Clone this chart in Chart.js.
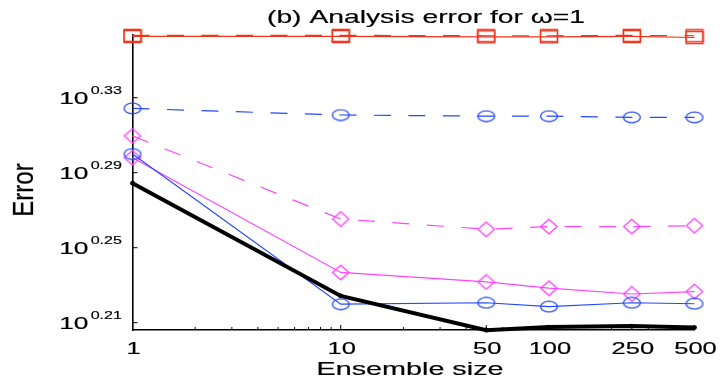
<!DOCTYPE html>
<html>
<head>
<meta charset="utf-8">
<script src="https://cdn.jsdelivr.net/npm/chart.js@4/dist/chart.umd.min.js"></script>
<style>
  html, body { margin: 0; padding: 0; background: #fff; }
  #wrap { width: 723px; height: 382px; }
</style>
</head>
<body>
<div id="wrap"><canvas id="c" width="723" height="382"></canvas></div>
<script>
// Ensemble sizes and the analysis error of each scheme
const ensembleSizes = [1, 10, 50, 100, 250, 500];
const xTickLabels = ['1', '10', '50', '100', '250', '500'];
const yTickExponents = ['0.21', '0.25', '0.29', '0.33'];

const redSolid      = [2.305, 2.305, 2.304, 2.304, 2.305, 2.302];
const redDashed     = [2.308, 2.308, 2.307, 2.307, 2.308, 2.307];
const blueDashed    = [2.110, 2.093, 2.090, 2.090, 2.087, 2.087];
const magentaDashed = [2.040, 1.842, 1.819, 1.825, 1.825, 1.827];
const blueSolid     = [1.995, 1.659, 1.662, 1.654, 1.662, 1.660];
const magentaSolid  = [1.986, 1.725, 1.705, 1.692, 1.680, 1.685];
const blackThick    = [1.925, 1.676, 1.607, 1.613, 1.615, 1.612];

const RED = '#f0341c', BLUE = '#2348ff', MAGENTA = '#ff44fa';
const FONT = '"Liberation Sans", Arial, Helvetica, sans-serif';
const TEXT_WEIGHT = 0.18;

// Wide, open marker glyphs
function marker(kind, color) {
  const c = document.createElement('canvas');
  const w = 20, h = kind === 'diamond' ? 17 : (kind === 'square' ? 15 : 13);
  c.width = w; c.height = h;
  const g = c.getContext('2d');
  g.strokeStyle = color; g.lineWidth = 1.3;
  g.beginPath();
  if (kind === 'circle') {
    g.ellipse(w / 2, h / 2, 8.4, 5.3, 0, 0, Math.PI * 2);
  } else if (kind === 'diamond') {
    g.moveTo(w / 2, 1.2); g.lineTo(w - 1.8, h / 2);
    g.lineTo(w / 2, h - 1.2); g.lineTo(1.8, h / 2); g.closePath();
  } else {
    g.rect(1.5, 1.5, w - 3, h - 3);
  }
  g.stroke();
  return c;
}

const pts = vals => vals.map((v, i) => ({ x: ensembleSizes[i], y: v }));

function series(vals, color, style, dashed) {
  return {
    data: pts(vals),
    borderColor: color,
    backgroundColor: color,
    borderWidth: 1.2,
    borderDash: dashed ? [17, 17.5] : [],
    pointStyle: style,
    pointRadius: 9,
    clip: false,
    tension: 0
  };
}

const datasets = [
  {
    data: pts(blackThick), borderColor: '#000', backgroundColor: '#000',
    borderWidth: 4, pointStyle: 'circle', pointRadius: 2.4, pointBorderWidth: 0,
    clip: false, tension: 0
  },
  series(blueSolid, BLUE, marker('circle', BLUE), false),
  series(magentaSolid, MAGENTA, marker('diamond', MAGENTA), false),
  series(magentaDashed, MAGENTA, marker('diamond', MAGENTA), true),
  series(blueDashed, BLUE, marker('circle', BLUE), true),
  series(redSolid, RED, marker('square', RED), false),
  series(redDashed, RED, marker('square', RED), true)
];

function stretchedText(ctx, str, x, y, size, sx, align) {
  ctx.save();
  ctx.font = size + 'px ' + FONT;
  ctx.textBaseline = 'alphabetic';
  ctx.textAlign = align || 'left';
  ctx.translate(x, y);
  ctx.scale(sx, 1);
  ctx.fillText(str, 0, 0);
  ctx.strokeStyle = ctx.fillStyle;
  ctx.lineWidth = TEXT_WEIGHT;
  ctx.strokeText(str, 0, 0);
  ctx.restore();
}

function fitText(ctx, str, cx, y, size, targetW) {
  ctx.save();
  ctx.font = size + 'px ' + FONT;
  const w = ctx.measureText(str).width;
  ctx.restore();
  stretchedText(ctx, str, cx, y, size, targetW / w, 'center');
}

// Axis furniture: inward ticks, tick labels, title and axis titles
const axisDecor = {
  id: 'axisDecor',
  beforeDatasetsDraw(chart) {
    const ctx = chart.ctx;
    const xs = chart.scales.x, ys = chart.scales.y;
    const area = chart.chartArea;
    ctx.save();
    ctx.strokeStyle = '#000';
    ctx.lineWidth = 1;
    ctx.beginPath();
    // y ticks
    yTickExponents.forEach(e => {
      const py = ys.getPixelForValue(Math.pow(10, parseFloat(e)));
      ctx.moveTo(area.left, py); ctx.lineTo(area.left + 5, py);
    });
    // x major ticks
    ensembleSizes.forEach(v => {
      const px = xs.getPixelForValue(v);
      ctx.moveTo(px, area.bottom); ctx.lineTo(px, area.bottom - 5);
    });
    // x minor ticks
    [1, 10, 100].forEach(dec => {
      for (let k = 2; k <= 9; k++) {
        const v = k * dec;
        if (v > 500) break;
        const px = xs.getPixelForValue(v);
        ctx.moveTo(px, area.bottom); ctx.lineTo(px, area.bottom - 3);
      }
    });
    ctx.stroke();

    ctx.fillStyle = '#000';
    // x tick labels
    xTickLabels.forEach((t, i) => {
      const px = xs.getPixelForValue(ensembleSizes[i]);
      stretchedText(ctx, t, px + 1, 353.5, 17, 1.5, 'center');
    });
    // y tick labels: 10 with raised exponent
    yTickExponents.forEach(e => {
      const py = ys.getPixelForValue(Math.pow(10, parseFloat(e)));
      const right = area.left - 10.5;
      ctx.font = '11.5px ' + FONT;
      const supW = ctx.measureText(e).width * 1.4;
      stretchedText(ctx, e, right, py - 4, 11.5, 1.4, 'right');
      stretchedText(ctx, '10', right - supW - 2.2, py + 6, 17, 1.55, 'right');
    });
    // title
    fitText(ctx, '(b) Analysis error for \u03c9=1', 426, 23.3, 18.5, 318);
    // x axis title
    fitText(ctx, 'Ensemble size', 410, 374.5, 17.6, 187);
    // y axis title
    ctx.save();
    ctx.font = '20px ' + FONT;
    const ew = ctx.measureText('Error').width;
    ctx.translate(33.3, 190);
    ctx.rotate(-Math.PI / 2);
    ctx.scale(53.4 / ew, 1.5);
    ctx.textAlign = 'center';
    ctx.textBaseline = 'alphabetic';
    ctx.fillText('Error', 0, 0);
    ctx.strokeStyle = '#000';
    ctx.lineWidth = TEXT_WEIGHT;
    ctx.strokeText('Error', 0, 0);
    ctx.restore();
    ctx.restore();
  }
};

new Chart(document.getElementById('c'), {
  type: 'line',
  data: { datasets },
  options: {
    responsive: false,
    animation: false,
    events: [],
    layout: { padding: { left: 0, top: 35, right: 28.5, bottom: 0 } },
    plugins: { legend: { display: false }, tooltip: { enabled: false }, title: { display: false } },
    scales: {
      x: {
        type: 'logarithmic',
        min: 1, max: 500,
        grid: { drawOnChartArea: false, drawTicks: false },
        border: { display: true, color: '#000', width: 1.6 },
        ticks: { display: false },
        afterFit: s => { s.height = 52; s.paddingLeft = 0; s.paddingRight = 0; }
      },
      y: {
        type: 'logarithmic',
        min: 1.6073, max: 2.3091,
        grid: { drawOnChartArea: false, drawTicks: false },
        border: { display: true, color: '#000', width: 1.6 },
        ticks: { display: false },
        afterFit: s => { s.width = 132.5; s.paddingTop = 0; s.paddingBottom = 0; }
      }
    }
  },
  plugins: [axisDecor]
});
</script>
</body>
</html>
